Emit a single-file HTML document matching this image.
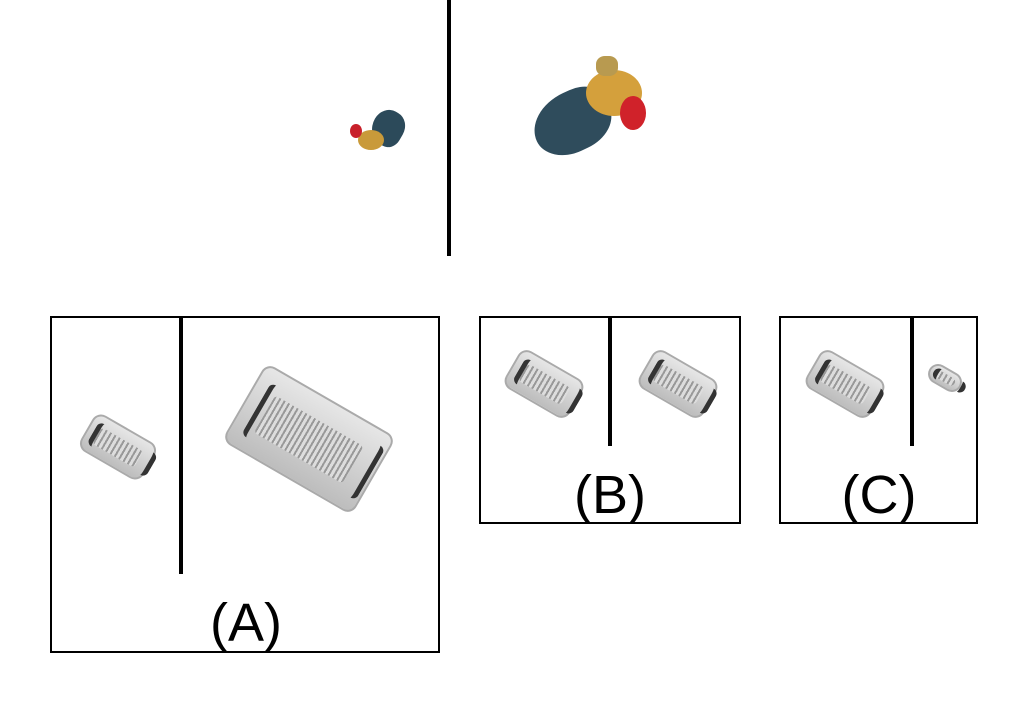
<!DOCTYPE html>
<html><head><meta charset="utf-8"><style>
body{margin:0;width:1027px;height:702px;background:#fff;position:relative;overflow:hidden;font-family:"Liberation Sans",sans-serif}
.a{position:absolute}
.box{position:absolute;border:2px solid #000;box-sizing:border-box}
.vl{position:absolute;background:#000;width:4px}
.lbl{position:absolute;font-size:54px;color:#000;transform:translateX(-50%);line-height:1}
.sofa{position:absolute;background:linear-gradient(#e6e6e6,#bdbdbd);border:2px solid #aaa;border-radius:10px;box-sizing:border-box}
.sofa::before{content:"";position:absolute;left:15%;top:25%;width:70%;height:50%;background:repeating-linear-gradient(90deg,#999 0 2px,#ddd 2px 5px);border-radius:4px}
.sofa::after{content:"";position:absolute;left:8%;top:15%;width:84%;height:70%;border-left:5px solid #333;border-right:5px solid #333;border-radius:6px}
</style></head><body>
<div class="vl" style="left:447px;top:0;height:256px"></div>

<div class="a" style="left:348px;top:108px;width:60px;height:58px">
<div class="a" style="left:24px;top:2px;width:32px;height:36px;background:#2c4a5a;border-radius:50% 50% 40% 60%;transform:rotate(30deg)"></div>
<div class="a" style="left:10px;top:22px;width:26px;height:20px;background:#c99a3a;border-radius:50%"></div>
<div class="a" style="left:2px;top:16px;width:12px;height:14px;background:#c8202a;border-radius:50%"></div>
</div>

<div class="a" style="left:528px;top:52px;width:125px;height:115px">
<div class="a" style="left:4px;top:40px;width:80px;height:60px;background:#2f4c5c;border-radius:60% 40% 50% 50%;transform:rotate(-25deg)"></div>
<div class="a" style="left:58px;top:18px;width:56px;height:46px;background:#d4a03c;border-radius:50%"></div>
<div class="a" style="left:92px;top:44px;width:26px;height:34px;background:#d0222a;border-radius:50%"></div>
<div class="a" style="left:68px;top:4px;width:22px;height:20px;background:#b89a50;border-radius:40%"></div>
</div>

<div class="box" style="left:50px;top:316px;width:390px;height:337px">
<div class="vl" style="left:127px;top:0;height:256px"></div>
<div class="sofa" style="left:30px;top:108px;width:72px;height:42px;transform:rotate(30deg)"></div>
<div class="sofa" style="left:182px;top:76px;width:150px;height:90px;transform:rotate(30deg)"></div>
<div class="lbl" style="left:194px;top:278px">(A)</div>
</div>

<div class="box" style="left:479px;top:316px;width:262px;height:208px">
<div class="vl" style="left:127px;top:0;height:128px"></div>
<div class="sofa" style="left:26px;top:44px;width:74px;height:44px;transform:rotate(30deg)"></div>
<div class="sofa" style="left:160px;top:44px;width:74px;height:44px;transform:rotate(30deg)"></div>
<div class="lbl" style="left:129px;top:150px">(B)</div>
</div>

<div class="box" style="left:779px;top:316px;width:199px;height:208px">
<div class="vl" style="left:129px;top:0;height:128px"></div>
<div class="sofa" style="left:27px;top:44px;width:74px;height:44px;transform:rotate(30deg)"></div>
<div class="sofa" style="left:146px;top:50px;width:36px;height:20px;transform:rotate(30deg)"></div>
<div class="lbl" style="left:98px;top:150px">(C)</div>
</div>
</body></html>
